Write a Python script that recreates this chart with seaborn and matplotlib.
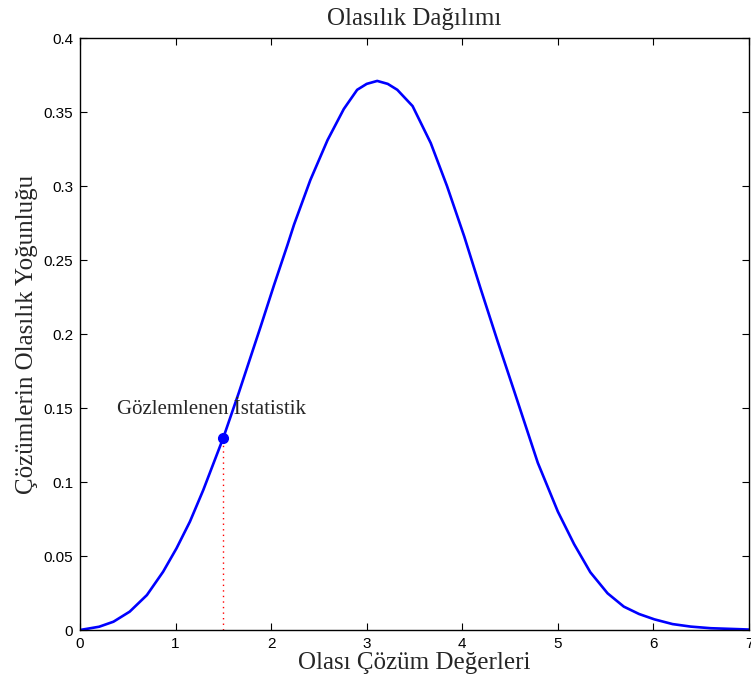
import numpy as np
import pandas as pd
import matplotlib
matplotlib.use("Agg")
import matplotlib.pyplot as plt
import seaborn as sns

# Data
x_vals = [0.0, 0.2, 0.35, 0.52, 0.70, 0.87, 1.01, 1.15, 1.29, 1.5, 1.66, 1.89, 2.03,
          2.17, 2.24, 2.41, 2.59, 2.76, 2.90, 3.0, 3.11, 3.22, 3.32, 3.48, 3.67, 3.84,
          4.02, 4.19, 4.37, 4.54, 4.79, 5.0, 5.17, 5.34, 5.52, 5.69, 5.85, 6.01,
          6.2, 6.39, 6.6, 6.92, 7.0]
y_vals = [0.0, 0.0022, 0.0056, 0.0124, 0.0236, 0.0394, 0.0552, 0.0732, 0.0946, 0.130,
          0.160, 0.205, 0.233, 0.260, 0.274, 0.304, 0.331, 0.352, 0.365, 0.369, 0.371,
          0.369, 0.365, 0.354, 0.329, 0.300, 0.266, 0.231, 0.195, 0.162, 0.113,
          0.080, 0.058, 0.039, 0.0248, 0.0158, 0.0108, 0.0072, 0.0040, 0.0023, 0.0012,
          0.0005, 0.0003]
obs_x = 1.5
obs_y = 0.13
obs_label = "Gözlemlenen İstatistik"
title = "Olasılık Dağılımı"
xlabel = "Olası Çözüm Değerleri"
ylabel = "Çözümlerin Olasılık Yoğunluğu"
xticks = [0, 1, 2, 3, 4, 5, 6, 7]
yticks = [0, 0.05, 0.1, 0.15, 0.2, 0.25, 0.3, 0.35, 0.4]
ytick_labels = ["0", "0.05", "0.1", "0.15", "0.2", "0.25", "0.3", "0.35", "0.4"]

sns.set_style("ticks")
plt.rcParams["font.family"] = ["Liberation Sans", "DejaVu Sans"]

df = pd.DataFrame({"x": x_vals, "y": y_vals})

fig = plt.figure(figsize=(7.51, 6.88), dpi=100)
ax = fig.add_axes([80 / 751, 58 / 688, 669 / 751, 592 / 688])

sns.lineplot(data=df, x="x", y="y", ax=ax, color="#0000ff", linewidth=1.9, sort=False,
             solid_joinstyle="round", solid_capstyle="round")
ax.plot([obs_x, obs_x], [0, obs_y], linestyle=(0, (1, 3)), color="#ff0000", linewidth=1.0)
ax.plot([obs_x], [obs_y], marker="o", markersize=7, color="#0000ff")

serif = ["Liberation Serif", "DejaVu Serif"]
ax.text(1.38, 0.149, obs_label, ha="center", va="center", fontsize=15, family=serif)
ax.set_title(title, fontsize=18, family=serif, pad=9)
ax.set_xlabel(xlabel, fontsize=18, family=serif, labelpad=1)
ax.set_ylabel(ylabel, fontsize=18, family=serif, labelpad=4)

ax.set_xlim(0, 7)
ax.set_ylim(0, 0.4)
ax.set_xticks(xticks)
ax.set_xticklabels([str(t) for t in xticks])
ax.set_yticks(yticks)
ax.set_yticklabels(ytick_labels)
ax.tick_params(direction="in", length=5, width=0.8, top=True, right=True,
               labelsize=11, colors="black", pad=5)
for s in ax.spines.values():
    s.set_visible(True)
    s.set_linewidth(1.0)
    s.set_color("black")

fig.savefig("out.png", dpi=100)
